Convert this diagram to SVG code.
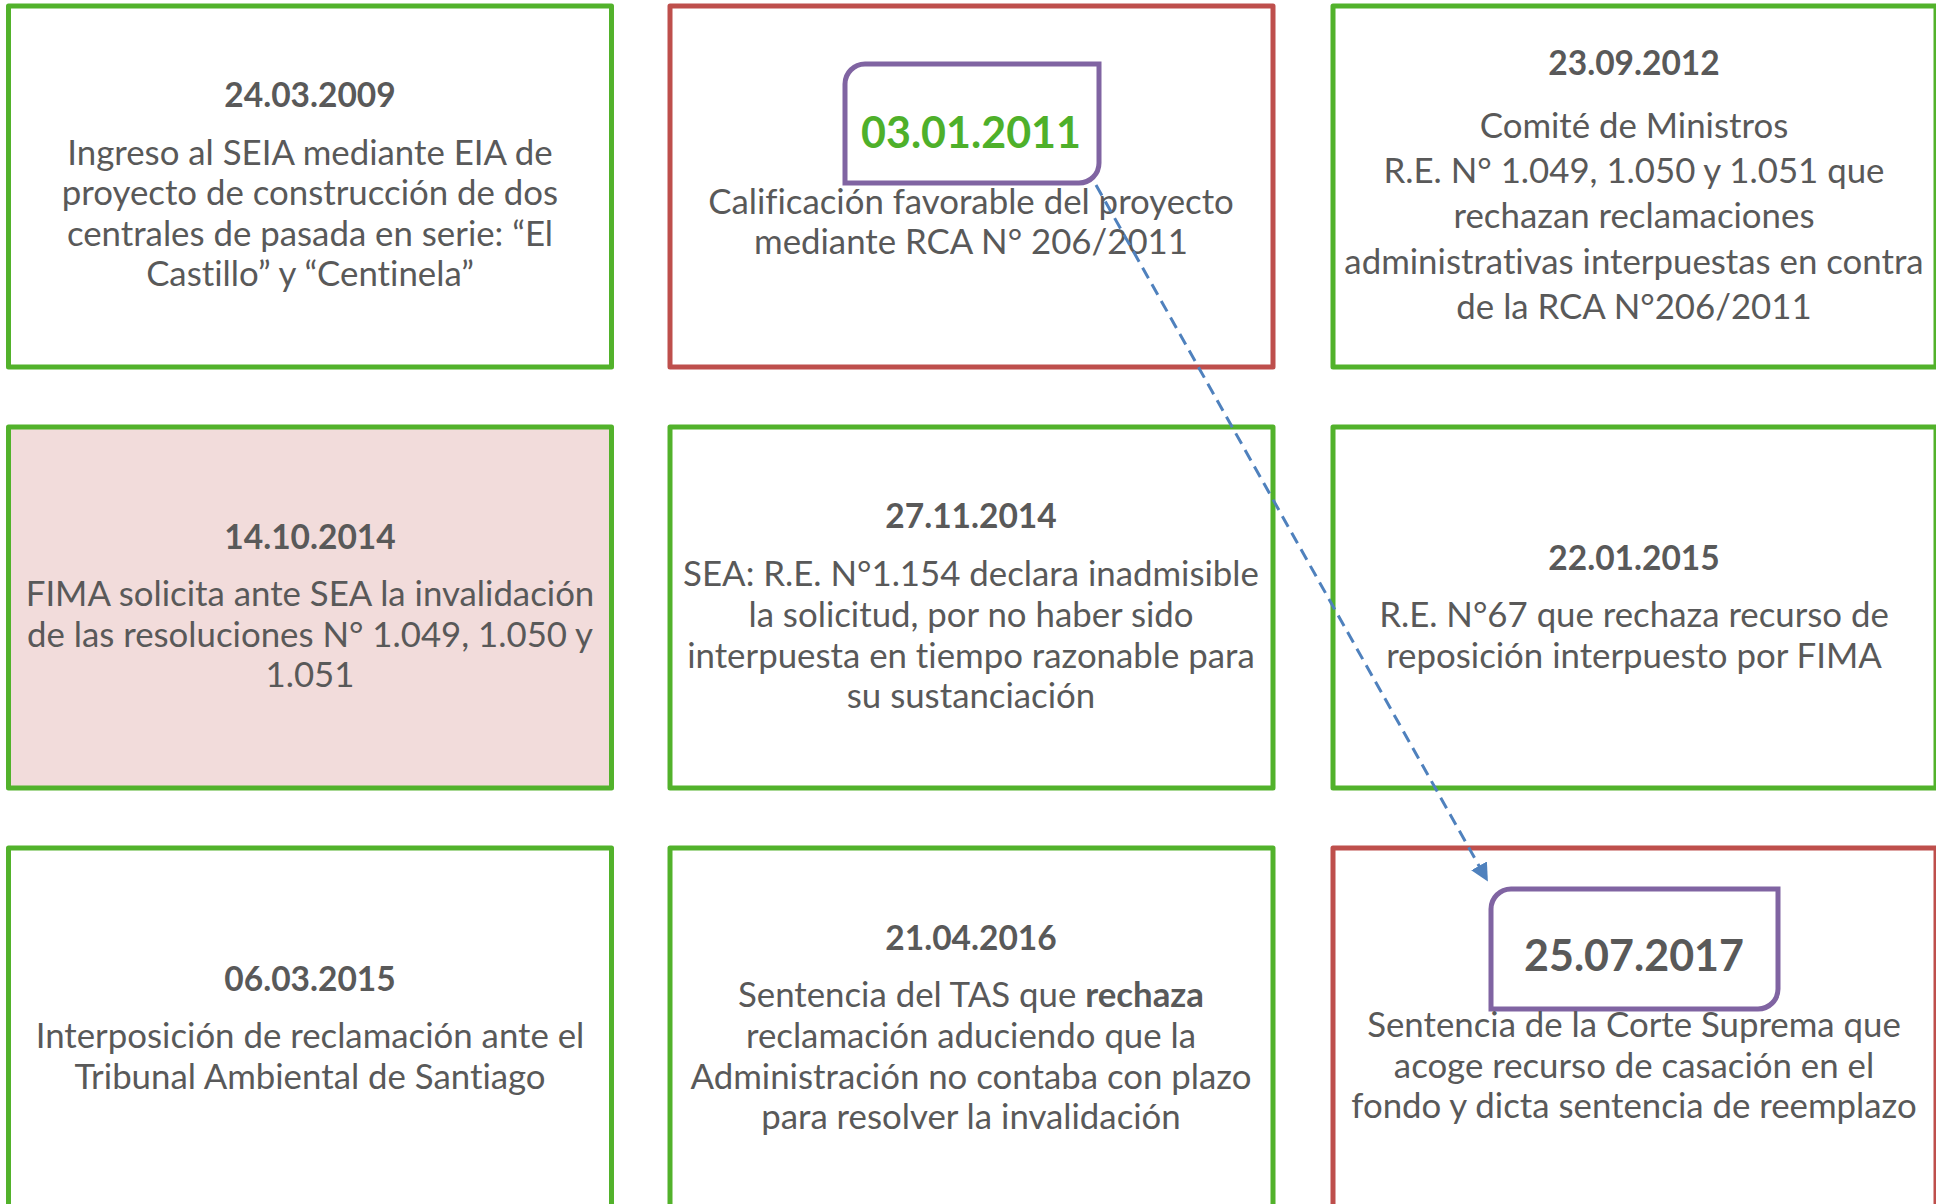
<svg xmlns="http://www.w3.org/2000/svg" width="1936" height="1204" viewBox="0 0 1936 1204">
<style>
.box{fill:#ffffff;stroke-width:5;stroke-linejoin:round}
.g{stroke:#52B22B}
.r{stroke:#BE4F4C}
.pink{fill:#F2DCDB}
.tag{fill:#ffffff;stroke:#8064A2;stroke-width:5}
.t{font-family:Lato,"Open Sans","Liberation Sans",sans-serif;font-size:34.8px;fill:#595959;text-anchor:middle;font-variant-ligatures:none}
.d{font-weight:bold;font-size:33.5px}
.b{font-weight:bold}
.big{font-size:43px;font-weight:bold}
.gr{fill:#4EB02A}
.conn{fill:none;stroke:#4F81BD;stroke-width:3;stroke-dasharray:12 7}
</style>
<defs>
<marker id="ah" viewBox="0 0 10 10" refX="9" refY="5" markerWidth="6" markerHeight="6" markerUnits="strokeWidth" orient="auto">
<path d="M0,0 L10,5 L0,10 z" fill="#4F81BD"/>
</marker>
</defs>

<g id="n1">
<rect class="box g" x="8.5" y="6" width="603" height="361"/>
<text class="t d" x="310" y="107">24.03.2009</text>
<text class="t" x="310" y="165">Ingreso al SEIA mediante EIA de</text>
<text class="t" x="310" y="205">proyecto de construcción de dos</text>
<text class="t" x="310" y="246">centrales de pasada en serie: “El</text>
<text class="t" x="310" y="286">Castillo” y “Centinela”</text>
</g>

<g id="n2">
<rect class="box r" x="670" y="6" width="603" height="361"/>
<path class="tag" d="M865,64 H1099 V163 A20,20 0 0 1 1079,183 H845 V84 A20,20 0 0 1 865,64 Z"/>
<text class="t big gr" x="971" y="148">03.01.2011</text>
<text class="t" x="971" y="214">Calificación favorable del proyecto</text>
<text class="t" x="971" y="254">mediante RCA N° 206/2011</text>
</g>

<g id="n3">
<rect class="box g" x="1333" y="6" width="603" height="361"/>
<text class="t d" x="1634" y="75">23.09.2012</text>
<text class="t" x="1634" y="138">Comité de Ministros</text>
<text class="t" x="1634" y="183">R.E. N° 1.049, 1.050 y 1.051 que</text>
<text class="t" x="1634" y="228">rechazan reclamaciones</text>
<text class="t" x="1634" y="274">administrativas interpuestas en contra</text>
<text class="t" x="1634" y="319">de la RCA N°206/2011</text>
</g>

<g id="n4">
<rect class="box g pink" x="8.5" y="427" width="603" height="361"/>
<text class="t d" x="310" y="549">14.10.2014</text>
<text class="t" x="310" y="606">FIMA solicita ante SEA la invalidación</text>
<text class="t" x="310" y="647">de las resoluciones N° 1.049, 1.050 y</text>
<text class="t" x="310" y="687">1.051</text>
</g>

<g id="n5">
<rect class="box g" x="670" y="427" width="603" height="361"/>
<text class="t d" x="971" y="528">27.11.2014</text>
<text class="t" x="971" y="586">SEA: R.E. N°1.154 declara inadmisible</text>
<text class="t" x="971" y="627">la solicitud, por no haber sido</text>
<text class="t" x="971" y="668">interpuesta en tiempo razonable para</text>
<text class="t" x="971" y="708">su sustanciación</text>
</g>

<g id="n6">
<rect class="box g" x="1333" y="427" width="603" height="361"/>
<text class="t d" x="1634" y="570">22.01.2015</text>
<text class="t" x="1634" y="627">R.E. N°67 que rechaza recurso de</text>
<text class="t" x="1634" y="668">reposición interpuesto por FIMA</text>
</g>

<g id="n7">
<rect class="box g" x="8.5" y="848" width="603" height="361"/>
<text class="t d" x="310" y="991">06.03.2015</text>
<text class="t" x="310" y="1048">Interposición de reclamación ante el</text>
<text class="t" x="310" y="1089">Tribunal Ambiental de Santiago</text>
</g>

<g id="n8">
<rect class="box g" x="670" y="848" width="603" height="361"/>
<text class="t d" x="971" y="950">21.04.2016</text>
<text class="t" x="971" y="1007">Sentencia del TAS que <tspan class="b">rechaza</tspan></text>
<text class="t" x="971" y="1048">reclamación aduciendo que la</text>
<text class="t" x="971" y="1089">Administración no contaba con plazo</text>
<text class="t" x="971" y="1129">para resolver la invalidación</text>
</g>

<g id="n9">
<rect class="box r" x="1333" y="848" width="603" height="361"/>
<path class="tag" d="M1511,889 H1778 V989 A20,20 0 0 1 1758,1009 H1491 V909 A20,20 0 0 1 1511,889 Z"/>
<text class="t big" x="1634" y="971">25.07.2017</text>
<text class="t" x="1634" y="1037">Sentencia de la Corte Suprema que</text>
<text class="t" x="1634" y="1078">acoge recurso de casación en el</text>
<text class="t" x="1634" y="1118">fondo y dicta sentencia de reemplazo</text>
</g>

<g id="connectors">
<path class="conn" d="M1096,185 L1487,880" marker-end="url(#ah)"/>
</g>
</svg>
